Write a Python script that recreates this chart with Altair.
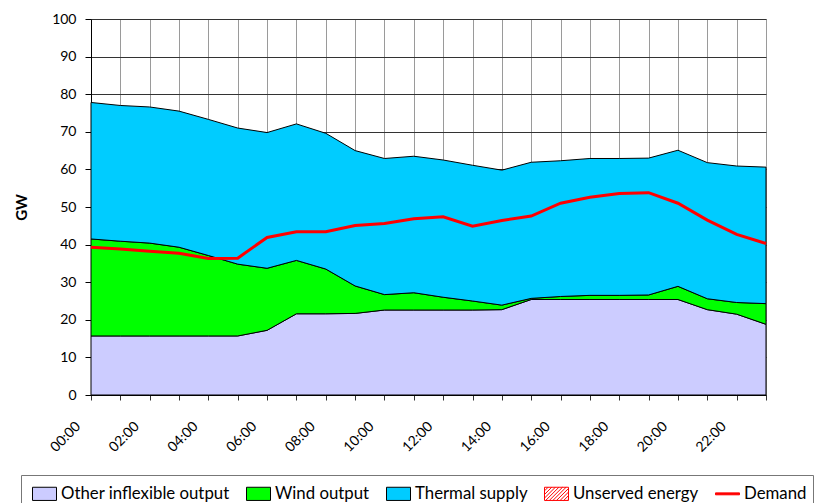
import altair as alt
import pandas as pd

hours = ["00:00", "01:00", "02:00", "03:00", "04:00", "05:00", "06:00", "07:00",
         "08:00", "09:00", "10:00", "11:00", "12:00", "13:00", "14:00", "15:00",
         "16:00", "17:00", "18:00", "19:00", "20:00", "21:00", "22:00", "23:00"]

other = [15.7, 15.7, 15.7, 15.7, 15.7, 15.7, 17.2, 21.6, 21.6, 21.7, 22.6, 22.6,
         22.6, 22.6, 22.7, 25.4, 25.4, 25.4, 25.4, 25.4, 25.4, 22.7, 21.5, 18.8]
wind = [25.8, 25.2, 24.7, 23.6, 21.4, 19.1, 16.5, 14.2, 11.9, 7.3, 4.1, 4.6,
        3.4, 2.4, 1.2, 0.3, 0.8, 1.1, 1.1, 1.2, 3.5, 2.9, 3.1, 5.5]
thermal = [36.3, 36.1, 36.2, 36.2, 36.2, 36.2, 36.1, 36.3, 36.1, 36.0, 36.2, 36.3,
           36.5, 36.1, 35.9, 36.2, 36.1, 36.4, 36.4, 36.4, 36.2, 36.2, 36.3, 36.3]
demand = [39.3, 38.8, 38.2, 37.7, 36.3, 36.4, 41.9, 43.4, 43.4, 45.1, 45.6, 46.9,
          47.4, 44.9, 46.4, 47.6, 51.0, 52.6, 53.6, 53.8, 51.0, 46.5, 42.7, 40.3]

series = ["Other inflexible output", "Wind output", "Thermal supply",
          "Unserved energy", "Demand"]
fills = ["#CCCCFF", "#00FF00", "#00CCFF", "#FFFFFF", "#FF0000"]
strokes = ["#000000", "#000000", "#000000", "#FF0000", "#FF0000"]

# legend symbol shapes (unit-square paths)
H = 0.55
rect = f"M-1,{-H}H1V{H}H-1Z"
segs = []
step = 0.3
x0 = -1 - 2 * H
while x0 < 1:
    t0 = max(0.0, -1 - x0)
    t1 = min(2 * H, 1 - x0)
    if t1 > t0:
        segs.append(f"M{x0 + t0:.3f},{H - t0:.3f}L{x0 + t1:.3f},{H - t1:.3f}")
    x0 += step
hatch = rect + "".join(segs)
bar = "M-1,-0.08H1V0.08H-1Z"
shapes = [rect, rect, rect, hatch, bar]

rows = []
for i, h in enumerate(hours):
    for k, vals in enumerate([other, wind, thermal]):
        rows.append({"hour": h, "series": series[k], "value": vals[i], "k": k})
area_df = pd.DataFrame(rows)
demand_df = pd.DataFrame({"hour": hours, "series": "Demand", "value": demand})

FONT = "Lato"

x_enc = alt.X(
    "hour:O", sort=hours, title=None,
    scale=alt.Scale(type="point", padding=0),
    axis=alt.Axis(
        grid=True, gridColor="#9a9a9a", gridWidth=1,
        labelAngle=-45, labelAlign="right", labelBaseline="middle",
        labelPadding=24, labelOffset=-13,
        labelExpr="toNumber(substring(datum.label,0,2)) % 2 == 0 ? datum.label : ''",
        labelFont=FONT, labelFontSize=14, labelColor="#000",
        tickColor="#333", tickSize=5, domainColor="#000",
    ),
)
y_scale = alt.Scale(domain=[0, 100], nice=False, zero=True)
y_axis = alt.Axis(
    values=list(range(0, 101, 10)), grid=True, gridColor="#333", gridWidth=1,
    title="GW", titleFont=FONT, titleFontSize=15, titleFontWeight="bold",
    titleColor="#000", titlePadding=22, labelOverlap=False,
    labelFont=FONT, labelFontSize=14, labelColor="#000", labelPadding=9,
    tickColor="#000", tickSize=6, domainColor="#000",
)

fill_scale = alt.Scale(domain=series, range=fills)
stroke_scale = alt.Scale(domain=series, range=strokes)
shape_scale = alt.Scale(domain=series, range=shapes)

legend = alt.Legend(
    title=None, orient="none", legendX=-70, legendY=456,
    direction="horizontal", columns=5,
    labelFont=FONT, labelFontSize=16.8, labelColor="#000", labelLimit=400,
    labelOffset=4, columnPadding=11, symbolOffset=5,
    symbolSize=576, symbolStrokeWidth=1, symbolFillColor="#ffffff",
    symbolStrokeColor="#000000", symbolOpacity=1,
    padding=6, strokeColor="#777", fillColor="#ffffff",
)

y_enc = alt.Y("value:Q", stack="zero", scale=y_scale, axis=y_axis)

areas = alt.Chart(area_df).mark_area(strokeWidth=1, opacity=1).encode(
    x=x_enc,
    y=y_enc,
    fill=alt.Fill("series:N", scale=fill_scale, legend=legend),
    stroke=alt.Stroke("series:N", scale=stroke_scale, legend=legend),
    order=alt.Order("k:Q"),
)

line = alt.Chart(demand_df).mark_line(strokeWidth=3).encode(
    x=x_enc,
    y=alt.Y("value:Q", scale=y_scale, axis=y_axis),
    stroke=alt.Stroke("series:N", scale=stroke_scale, legend=legend),
)

legend_layer = alt.Chart(demand_df).mark_point(filled=True, opacity=1).encode(
    x=x_enc,
    y=alt.Y("value:Q", scale=y_scale, axis=y_axis),
    fill=alt.Fill("series:N", scale=fill_scale, legend=legend),
    stroke=alt.Stroke("series:N", scale=stroke_scale, legend=legend),
    shape=alt.Shape("series:N", scale=shape_scale, legend=legend),
).transform_filter("false")

chart = alt.layer(areas, line, legend_layer).properties(
    width=675, height=376,
    padding={"left": 83, "top": 11, "right": 50, "bottom": 110},
    autosize=alt.AutoSizeParams(type="none"),
    background="#ffffff",
).configure_view(stroke="#9a9a9a", strokeWidth=1)

chart.save("out.html", embed_options={"renderer": "svg", "actions": False})
